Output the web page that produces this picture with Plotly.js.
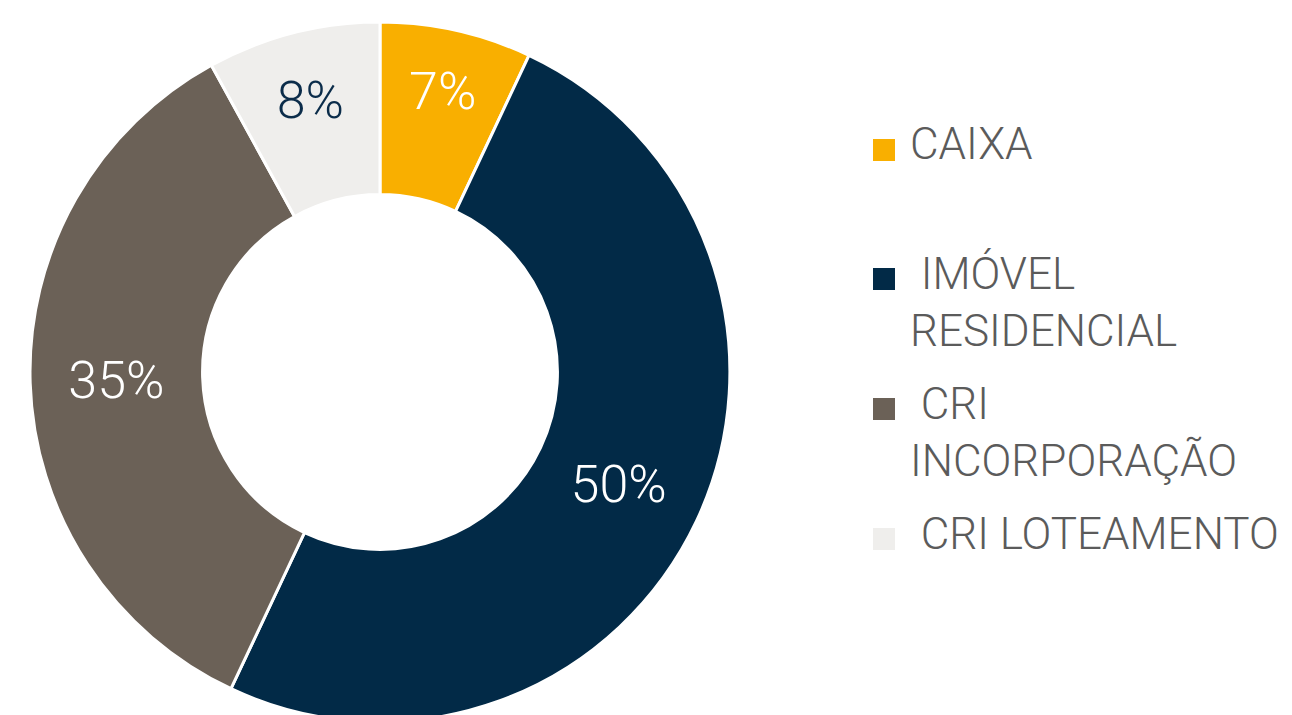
<!DOCTYPE html>
<html>
<head>
<meta charset="utf-8">
<script src="https://cdn.plot.ly/plotly-3.0.1.min.js"></script>
<style>
html, body { margin:0; padding:0; background:#fff; overflow:hidden; }
#wrap { width:1292px; height:715px; overflow:hidden; }
#chart { width:1292px; height:730px; }
</style>
</head>
<body>
<div id="wrap"><div id="chart"></div></div>
<script>
// Data
const categories = ['CAIXA', 'IMÓVEL RESIDENCIAL', 'CRI INCORPORAÇÃO', 'CRI LOTEAMENTO'];
const legendText = ['CAIXA', '\u00a0IMÓVEL<br>RESIDENCIAL', '\u00a0CRI<br>INCORPORAÇÃO', '\u00a0CRI LOTEAMENTO'];
const values = [7, 50, 35, 8];
const sliceColors = ['#F9AF00', '#022A47', '#6B6157', '#EFEEEC'];
const labelColors = ['#FFFFFF', '#FFFFFF', '#FFFFFF', '#0B2C4A'];

const W = 1292, H = 730;
const px = x => x / W;
const py = y => 1 - y / H;

// legend geometry (pixels)
const legendSquareTop = [139, 268, 398, 528];
const legendTextTop = [116, 246, 376, 506];
const legendTextX = [908, 908, 908, 908];

const fs = 44;
const shapes = [];
const annotations = [];
categories.forEach((c, i) => {
  shapes.push({
    type: 'rect', xref: 'paper', yref: 'paper',
    x0: px(873), x1: px(895),
    y0: py(legendSquareTop[i] + 22), y1: py(legendSquareTop[i]),
    fillcolor: sliceColors[i], line: {width: 0}
  });
  annotations.push({
    xref: 'paper', yref: 'paper',
    x: px(legendTextX[i]), y: py(legendTextTop[i]),
    xanchor: 'left', yanchor: 'top', align: 'left',
    text: legendText[i], showarrow: false,
    font: {family: 'Roboto, sans-serif', size: fs, color: '#5B5B5B', weight: 300}
  });
});

const trace = {
  type: 'pie',
  labels: categories,
  values: values,
  sort: false,
  direction: 'clockwise',
  rotation: 0,
  hole: 0.507,
  domain: {x: [px(30), px(730)], y: [py(722), py(22)]},
  marker: {colors: sliceColors, line: {color: '#FFFFFF', width: 3}},
  texttemplate: '%{value}%',
  textposition: 'inside',
  insidetextorientation: 'horizontal',
  textfont: {family: 'Roboto, sans-serif', size: 52, color: labelColors, weight: 300},
  hoverinfo: 'none',
  showlegend: false
};

const layout = {
  width: W, height: H,
  margin: {l: 0, r: 0, t: 0, b: 0},
  paper_bgcolor: '#FFFFFF',
  plot_bgcolor: '#FFFFFF',
  showlegend: false,
  uniformtext: {mode: 'show', minsize: 52},
  shapes: shapes,
  annotations: annotations
};

Plotly.newPlot('chart', [trace], layout, {displayModeBar: false, staticPlot: true});
</script>
</body>
</html>
